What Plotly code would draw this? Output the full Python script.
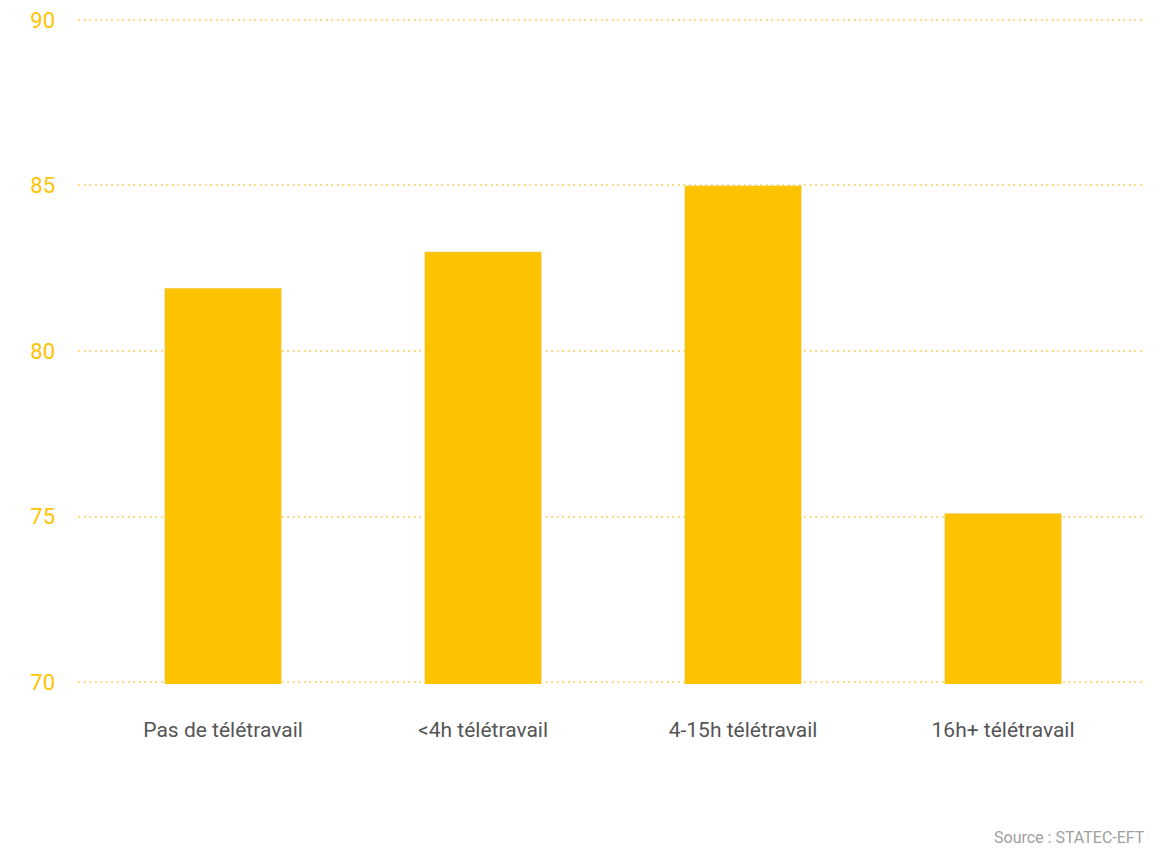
import plotly.graph_objects as go

categories = ["Pas de télétravail", "<4h télétravail", "4-15h télétravail", "16h+ télétravail"]
values = [81.9, 83.0, 85.0, 75.1]
y_ticks = [70, 75, 80, 85, 90]

BAR = "#FDC300"
GRID = "#FDDB85"

fig = go.Figure(go.Bar(x=categories, y=values, marker_color=BAR, width=0.45,
                       hoverinfo="x+y"))

fig.update_layout(
    width=1148, height=843,
    margin=dict(l=70, r=11, t=10, b=167),
    paper_bgcolor="white", plot_bgcolor="white",
    showlegend=False,
    font=dict(family="Roboto, sans-serif"),
    xaxis=dict(
        type="category", range=[-0.558, 3.546],
        showgrid=False, zeroline=False, showline=False,
        tickfont=dict(size=21, color="#555555"),
        ticklabelstandoff=31, automargin=False,
    ),
    yaxis=dict(
        range=[69.94, 90.06], tickvals=y_ticks,
        showgrid=True, gridcolor=GRID, griddash="2px,3.5px", gridwidth=2,
        zeroline=False, showline=False,
        tickfont=dict(size=22, color=BAR),
        ticklabelstandoff=22, automargin=False, ticklabeloverflow="allow",
    ),
    annotations=[dict(
        text="Source : STATEC-EFT", xref="paper", yref="paper",
        x=1.002, y=-0.2312, xanchor="right", yanchor="middle", showarrow=False,
        font=dict(size=16, color="#A0A0A0"),
    )],
)

fig.write_html("out.html")
